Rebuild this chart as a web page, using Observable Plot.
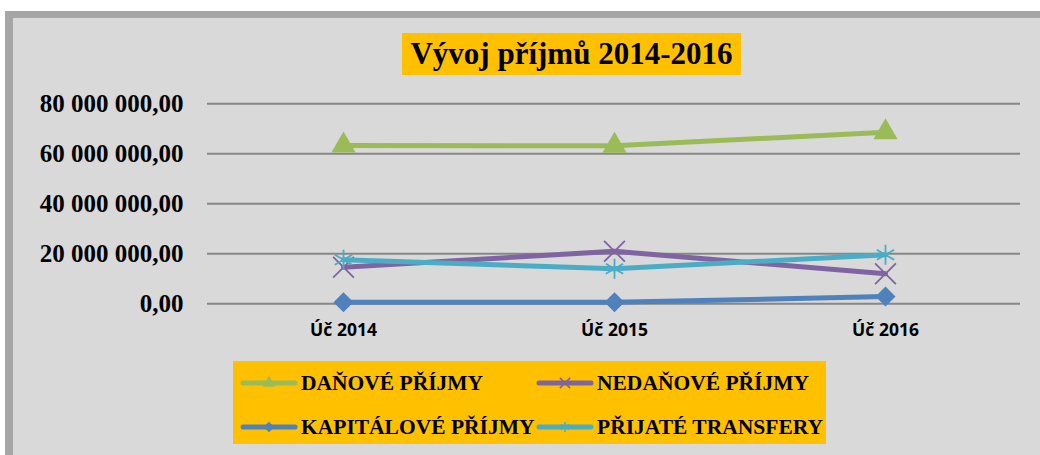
<!DOCTYPE html>
<html>
<head>
<meta charset="utf-8">
<script src="https://cdn.jsdelivr.net/npm/d3@7"></script>
<script src="https://cdn.jsdelivr.net/npm/@observablehq/plot@0.6"></script>
<style>
  html, body { margin: 0; padding: 0; background: #ffffff; width: 1040px; height: 455px; overflow: hidden; }
  #shadow { position: absolute; left: 5px; top: 11px; width: 1100px; height: 500px; background: #a6a6a6; }
  #panel { position: absolute; left: 13px; top: 18px; width: 1100px; height: 500px; background: #d9d9d9; }
  #chart { position: absolute; left: 0; top: 0; }
  #title { position: absolute; left: 402px; top: 33px; width: 339px; height: 42px; background: #ffc000;
           font-family: "Liberation Serif", serif; font-weight: bold; font-size: 31px; line-height: 42px;
           text-align: center; color: #000; white-space: nowrap; }
  #legend { position: absolute; left: 233px; top: 361px; width: 593px; height: 83px; background: #ffc000; }
  .item { position: absolute; height: 30px; display: flex; align-items: center; white-space: nowrap;
          font-family: "Liberation Serif", serif; font-weight: bold; font-size: 21.5px; color: #000; }
  .item svg { margin-right: 3px; }
</style>
</head>
<body>
<div id="shadow"></div>
<div id="panel"></div>
<div id="chart"></div>
<div id="title">Vývoj příjmů 2014-2016</div>
<div id="legend"></div>
<script>
const years = ["Úč 2014", "Úč 2015", "Úč 2016"];
const danovePrijmy = [63.3e6, 63.2e6, 68.6e6];
const nedanovePrijmy = [14.6e6, 21.0e6, 12.0e6];
const kapitalovePrijmy = [0.6e6, 0.6e6, 2.9e6];
const prijateTransfery = [17.6e6, 14.0e6, 19.6e6];
const seriesNames = ["DAŇOVÉ PŘÍJMY", "NEDAŇOVÉ PŘÍJMY", "KAPITÁLOVÉ PŘÍJMY", "PŘIJATÉ TRANSFERY"];
const yTicks = [0, 20e6, 40e6, 60e6, 80e6];

const seriesValues = [danovePrijmy, nedanovePrijmy, kapitalovePrijmy, prijateTransfery];
const colors = ["#9bbb59", "#8064a2", "#4f81bd", "#4bacc6"];
const symbols = ["triangle", "times", "diamond2", "asterisk"];
const filled = [true, false, true, false];

const locale = d3.formatLocale({decimal: ",", thousands: " ", grouping: [3], currency: ["", ""]});
const fmt = locale.format(",.2f");

const marks = [
  Plot.gridY(yTicks, {stroke: "#878787", strokeOpacity: 1, strokeWidth: 2}),
  Plot.axisY(yTicks, {tickSize: 0, tickPadding: 24, tickFormat: fmt, label: null,
    fontFamily: "Liberation Serif, serif", fontWeight: "bold", fontSize: 25, letterSpacing: 1.8, fill: "#000"}),
  Plot.axisX(years, {tickSize: 0, tickPadding: 20, label: null,
    fontFamily: "Open Sans, sans-serif", fontWeight: "bold", fontSize: 17.5, fill: "#000"})
];
seriesNames.forEach((name, i) => {
  const data = years.map((y, j) => ({year: y, value: seriesValues[i][j], series: name}));
  marks.push(Plot.line(data, {x: "year", y: "value", stroke: colors[i], strokeWidth: 5, strokeLinecap: "round", strokeLinejoin: "round"}));
  marks.push(Plot.dot(data, filled[i]
    ? {x: "year", y: "value", symbol: symbols[i], r: 9, fill: colors[i], stroke: "none"}
    : {x: "year", y: "value", symbol: symbols[i], r: 9.5, stroke: colors[i], strokeWidth: 1.8, fill: "none"}));
});

const chart = Plot.plot({
  width: 1040,
  height: 360,
  marginLeft: 207,
  marginRight: 20,
  marginTop: 103.3,
  marginBottom: 56.7,
  style: {background: "transparent", overflow: "visible"},
  x: {type: "point", domain: years, padding: 0.5, axis: null, label: null},
  y: {domain: [0, 80e6], axis: null, label: null},
  marks
});
document.getElementById("chart").appendChild(chart);

// legend
const legend = document.getElementById("legend");
const pos = [[7, 7], [303, 7], [7, 51], [303, 51]];
seriesNames.forEach((name, i) => {
  const item = document.createElement("div");
  item.className = "item";
  item.style.left = pos[i][0] + "px";
  item.style.top = (pos[i][1]) + "px";
  const sym = d3.symbol(d3["symbol" + {triangle: "Triangle", times: "Times", diamond2: "Diamond2", asterisk: "Asterisk"}[symbols[i]]], 70)();
  item.innerHTML = `<svg width="58" height="30"><line x1="3" x2="55" y1="15" y2="15" stroke="${colors[i]}" stroke-width="5" stroke-linecap="round"/>` +
    `<path transform="translate(29,15)" d="${sym}" fill="${filled[i] ? colors[i] : "none"}" stroke="${filled[i] ? "none" : colors[i]}" stroke-width="1.5"/></svg>` +
    `<span>${name}</span>`;
  legend.appendChild(item);
});
</script>
</body>
</html>
